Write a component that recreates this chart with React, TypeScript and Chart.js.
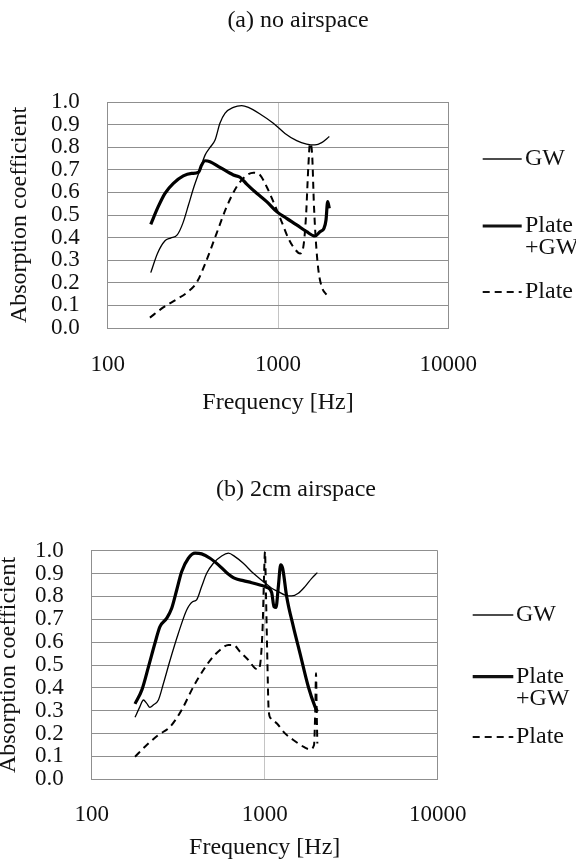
import React, { useEffect, useRef } from "react";
import { Chart, registerables } from "chart.js";

Chart.register(...registerables);

const SERIF = '"Liberation Serif", "Times New Roman", Times, serif';
const INK = "#111";
const GRID = "#8f8f8f";
const GRID_MID = "#c4c4c4";

// Shared axis content
const freqTicks = [100, 1000, 10000];
const seriesLabels = ["GW", "Plate +GW", "Plate"];

// (a) no airspace — frequency [Hz] / absorption coefficient
const gwFreqA = [179, 196, 217, 234, 256, 276, 298, 321, 345, 373, 399, 427, 456, 488, 547, 612, 670, 784, 939, 1099, 1287, 1473, 1649, 1805, 2002];
const gwAlphaA = [0.245, 0.33, 0.386, 0.398, 0.412, 0.463, 0.544, 0.625, 0.692, 0.765, 0.799, 0.832, 0.906, 0.95, 0.976, 0.984, 0.976, 0.947, 0.906, 0.861, 0.829, 0.814, 0.81, 0.82, 0.847];

const plateGwFreqA = [179, 198, 217, 243, 278, 311, 342, 356, 373, 399, 456, 547, 598, 655, 750, 858, 982, 1124, 1287, 1473, 1649, 1765, 1862, 1914, 1957, 2002];
const plateGwAlphaA = [0.459, 0.537, 0.596, 0.64, 0.673, 0.684, 0.69, 0.721, 0.74, 0.736, 0.711, 0.677, 0.667, 0.637, 0.596, 0.559, 0.515, 0.485, 0.456, 0.426, 0.407, 0.426, 0.441, 0.478, 0.559, 0.529];

const plateFreqA = [177, 212, 254, 291, 333, 381, 436, 500, 572, 640, 717, 784, 858, 939, 1051, 1150, 1259, 1347, 1409, 1460, 1507, 1541, 1585, 1627, 1672, 1726, 1805, 1932];
const plateAlphaA = [0.046, 0.091, 0.127, 0.156, 0.201, 0.301, 0.419, 0.537, 0.625, 0.67, 0.687, 0.677, 0.625, 0.559, 0.47, 0.397, 0.348, 0.33, 0.36, 0.493, 0.714, 0.817, 0.773, 0.537, 0.375, 0.257, 0.183, 0.146];

// (b) 2cm airspace
const gwFreqB = [178, 190, 199, 208, 217, 227, 243, 260, 284, 317, 354, 383, 404, 432, 462, 505, 564, 617, 673, 752, 860, 982, 1097, 1199, 1310, 1432, 1564, 1710, 1869, 2015];
const gwAlphaB = [0.271, 0.318, 0.347, 0.332, 0.315, 0.325, 0.347, 0.42, 0.522, 0.639, 0.741, 0.777, 0.785, 0.843, 0.901, 0.945, 0.977, 0.989, 0.974, 0.945, 0.901, 0.865, 0.836, 0.821, 0.806, 0.802, 0.814, 0.843, 0.879, 0.904];

const plateGwFreqB = [178, 195, 213, 232, 248, 271, 290, 310, 331, 362, 396, 432, 483, 540, 603, 673, 752, 841, 939, 1027, 1097, 1132, 1162, 1199, 1237, 1270, 1340, 1464, 1600, 1787, 1953, 2015];
const plateGwAlphaB = [0.33, 0.391, 0.493, 0.595, 0.668, 0.704, 0.748, 0.828, 0.908, 0.967, 0.989, 0.986, 0.967, 0.938, 0.904, 0.879, 0.869, 0.86, 0.85, 0.84, 0.817, 0.755, 0.752, 0.843, 0.938, 0.923, 0.799, 0.668, 0.551, 0.405, 0.318, 0.296];

const plateFreqB = [178, 208, 243, 284, 331, 387, 442, 494, 552, 617, 659, 720, 804, 879, 919, 948, 973, 991, 1004, 1017, 1036, 1054, 1083, 1173, 1310, 1464, 1672, 1828, 1928, 1962, 1980, 1997, 2015];
const plateAlphaB = [0.099, 0.15, 0.194, 0.23, 0.303, 0.405, 0.478, 0.529, 0.566, 0.588, 0.588, 0.558, 0.522, 0.486, 0.481, 0.522, 0.668, 0.887, 0.996, 0.814, 0.522, 0.303, 0.267, 0.245, 0.201, 0.172, 0.143, 0.131, 0.15, 0.318, 0.464, 0.303, 0.157];

type Style = { width: number; dash: number[] };
const seriesStyles: Style[] = [
  { width: 1.3, dash: [] },
  { width: 3.2, dash: [] },
  { width: 2, dash: [7, 5] },
];

type Panel = {
  title: string;
  top: number;
  height: number;
  titleX: number;
  titleY: number;
  padding: { left: number; top: number; right: number; bottom: number };
  yWidth: number;
  xHeight: number;
  yTitlePad: number;
  xTickPad: number;
  legend: { x0: number; x1: number; textX: number; ys: number[] };
  series: { freq: number[]; alpha: number[] }[];
};

const panels: Panel[] = [
  {
    title: "(a) no airspace",
    top: 0,
    height: 431,
    titleX: 298,
    titleY: 21,
    padding: { left: 0, top: 102, right: 127.7, bottom: 13.6 },
    yWidth: 107.7,
    xHeight: 89.4,
    yTitlePad: 11,
    xTickPad: 23,
    legend: { x0: 482.7, x1: 521.7, textX: 525, ys: [159, 226, 292] },
    series: [
      { freq: gwFreqA, alpha: gwAlphaA },
      { freq: plateGwFreqA, alpha: plateGwAlphaA },
      { freq: plateFreqA, alpha: plateAlphaA },
    ],
  },
  {
    title: "(b) 2cm airspace",
    top: 431,
    height: 432,
    titleX: 296,
    titleY: 59,
    padding: { left: 0, top: 119.7, right: 138.3, bottom: 0.6 },
    yWidth: 91.7,
    xHeight: 83.1,
    yTitlePad: 0,
    xTickPad: 22,
    legend: { x0: 472.7, x1: 513.3, textX: 516, ys: [184, 245.7, 306] },
    series: [
      { freq: gwFreqB, alpha: gwAlphaB },
      { freq: plateGwFreqB, alpha: plateGwAlphaB },
      { freq: plateFreqB, alpha: plateAlphaB },
    ],
  },
];

// Heading above the plot and the line-sample legend on the right
function decorPlugin(p: Panel) {
  return {
    id: "decor",
    afterDraw(chart: Chart) {
      const ctx = chart.ctx;
      ctx.save();
      ctx.fillStyle = INK;
      ctx.font = `24px ${SERIF}`;
      ctx.textAlign = "center";
      ctx.textBaseline = "middle";
      ctx.fillText(p.title, p.titleX, p.titleY);

      ctx.textAlign = "left";
      chart.data.datasets.forEach((ds: any, i: number) => {
        const y = p.legend.ys[i];
        const st = seriesStyles[i];
        ctx.strokeStyle = INK;
        ctx.lineWidth = st.width;
        ctx.setLineDash(st.dash);
        ctx.beginPath();
        ctx.moveTo(p.legend.x0, y);
        ctx.lineTo(p.legend.x1, y);
        ctx.stroke();
        String(ds.label)
          .split(" ")
          .forEach((line, k) => ctx.fillText(line, p.legend.textX, y + k * 22));
      });
      ctx.restore();
    },
  };
}

function buildChart(canvas: HTMLCanvasElement, p: Panel) {
  return new Chart(canvas, {
    type: "line",
    data: {
      datasets: p.series.map((s, i) => ({
        label: seriesLabels[i],
        data: s.freq.map((f, k) => ({ x: f, y: s.alpha[k] })),
        borderColor: "#000",
        borderWidth: seriesStyles[i].width,
        borderDash: seriesStyles[i].dash,
        pointRadius: 0,
        fill: false,
        cubicInterpolationMode: "monotone",
      })),
    },
    options: {
      animation: false,
      responsive: false,
      devicePixelRatio: 1,
      layout: { padding: p.padding },
      plugins: {
        legend: { display: false },
        tooltip: { enabled: false },
        title: { display: false },
      },
      scales: {
        x: {
          type: "logarithmic",
          min: 100,
          max: 10000,
          afterBuildTicks: (scale: any) => {
            scale.ticks = freqTicks.map((v) => ({ value: v }));
          },
          afterFit: (scale: any) => {
            scale.height = p.xHeight;
          },
          ticks: {
            autoSkip: false,
            maxRotation: 0,
            padding: p.xTickPad,
            color: INK,
            font: { family: SERIF, size: 23 },
            callback: (v: any) => String(v),
          },
          grid: {
            drawTicks: false,
            lineWidth: 1,
            color: (c: any) => (c.tick && c.tick.value === 1000 ? GRID_MID : GRID),
          },
          border: { display: true, color: GRID, width: 1 },
          title: {
            display: true,
            text: "Frequency [Hz]",
            color: INK,
            font: { family: SERIF, size: 24 },
            padding: { top: 0, bottom: 0 },
          },
        },
        y: {
          type: "linear",
          min: 0,
          max: 1,
          afterFit: (scale: any) => {
            scale.width = p.yWidth;
          },
          ticks: {
            stepSize: 0.1,
            autoSkip: false,
            padding: 28,
            color: INK,
            font: { family: SERIF, size: 23 },
            callback: (v: any) => Number(v).toFixed(1),
          },
          grid: { drawTicks: false, lineWidth: 1, color: GRID },
          border: { display: true, color: GRID, width: 1 },
          title: {
            display: true,
            text: "Absorption coefficient",
            color: INK,
            font: { family: SERIF, size: 24, lineHeight: 0.75 },
            padding: { top: p.yTitlePad, bottom: 0 },
          },
        },
      },
    },
    plugins: [decorPlugin(p)],
  } as any);
}

export default function App() {
  const refA = useRef<HTMLCanvasElement | null>(null);
  const refB = useRef<HTMLCanvasElement | null>(null);

  useEffect(() => {
    document.body.style.margin = "0";
    const charts: Chart[] = [];
    [refA.current, refB.current].forEach((c, i) => {
      if (c) charts.push(buildChart(c, panels[i]));
    });
    return () => charts.forEach((ch) => ch.destroy());
  }, []);

  return (
    <div style={{ position: "relative", width: 576, height: 863, background: "#fff" }}>
      {panels.map((p, i) => (
        <canvas
          key={p.title}
          ref={i === 0 ? refA : refB}
          width={576}
          height={p.height}
          style={{ position: "absolute", left: 0, top: p.top, width: 576, height: p.height, display: "block" }}
        />
      ))}
    </div>
  );
}
